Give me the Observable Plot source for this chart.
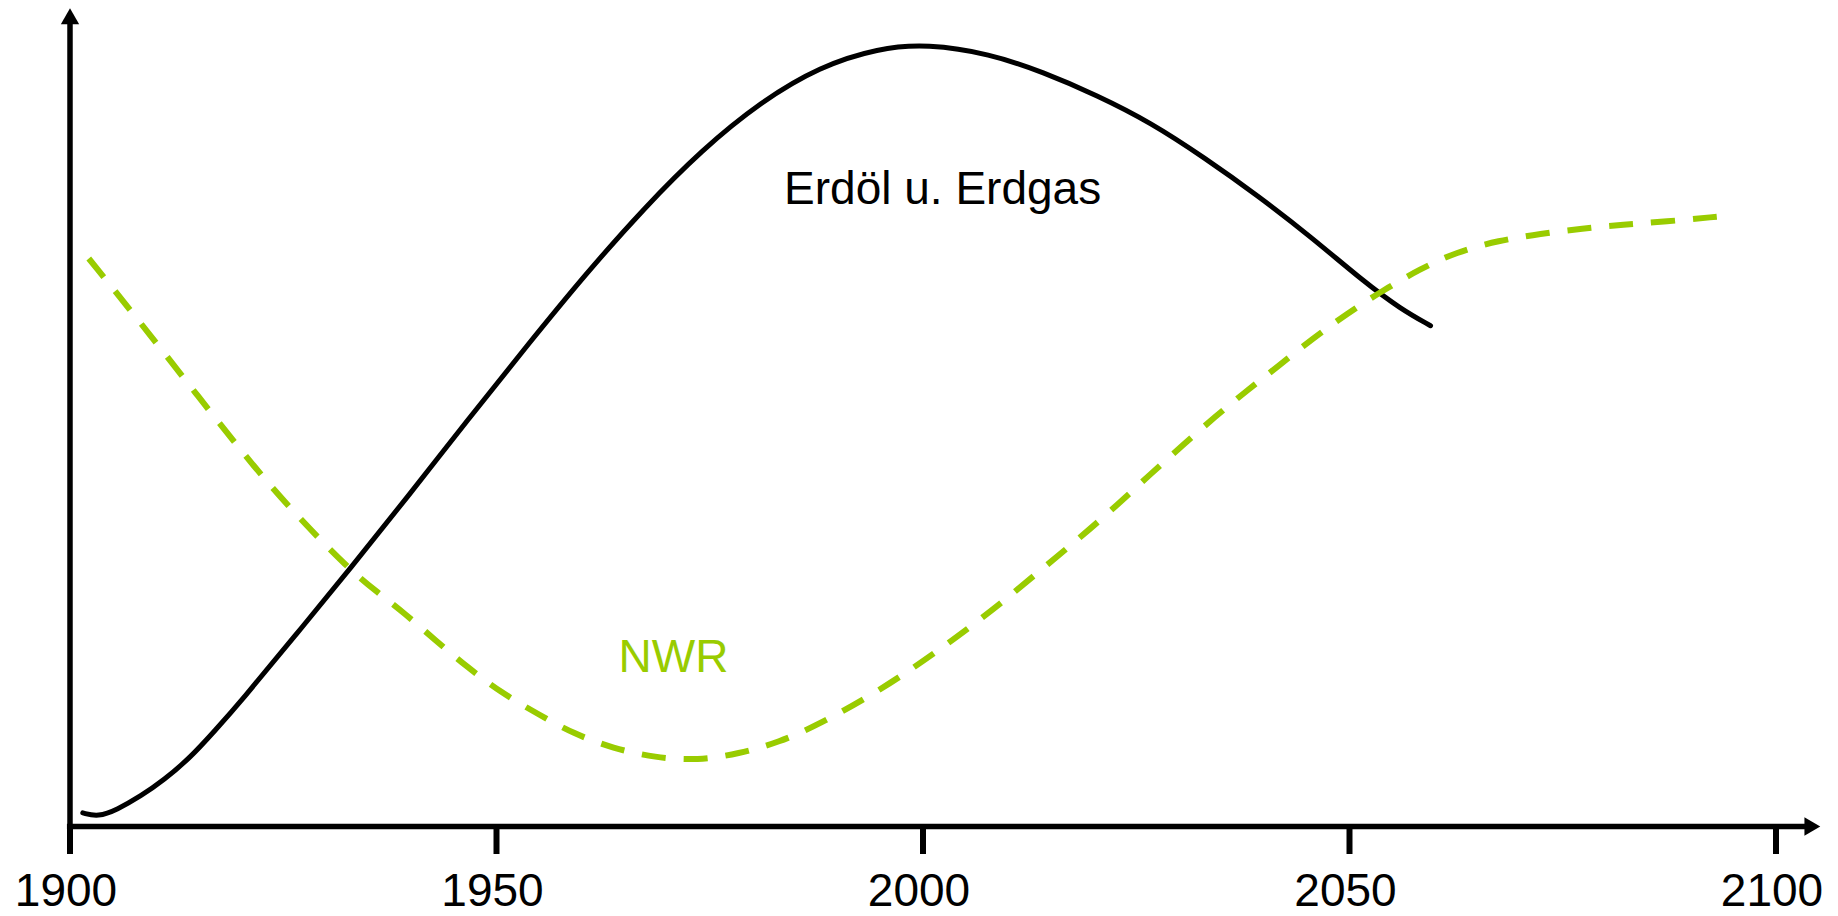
<!DOCTYPE html>
<html>
<head>
<meta charset="utf-8">
<script src="https://cdn.jsdelivr.net/npm/d3@7"></script>
<script src="https://cdn.jsdelivr.net/npm/@observablehq/plot@0.6"></script>
<style>
  html, body { margin: 0; padding: 0; background: #fff; }
  #chart svg { display: block; }
</style>
</head>
<body>
<div id="chart"></div>
<script>
// Tick years and labels
const tickYears = [1900, 1950, 2000, 2050, 2100];
const tickLabels = ["1900", "1950", "2000", "2050", "2100"];

// Series: Erdöl u. Erdgas (solid black)
const oilYears  = [1901.5, 1903.3, 1905.5, 1908.3, 1911.0, 1914.1, 1917.0, 1920.0, 1926.5, 1932.9, 1939.8, 1946.6, 1953.5, 1960.4, 1967.3, 1974.1, 1981.0, 1987.9, 1994.8, 2000.5, 2007.8, 2014.1, 2020.4, 2026.7, 2033.0, 2039.2, 2045.5, 2051.8, 2056.0, 2059.5];
const oilValues = [1.7,    1.2,    2.1,    3.8,    5.8,    8.6,    12.0,   15.6,   24.0,   32.3,   41.5,   50.8,   60.0,   69.0,   77.3,   84.6,   90.6,   95.0,   97.3,   97.8,   96.6,   94.3,   91.4,   88.0,   83.6,   78.9,   73.7,   68.0,   64.7,   62.6];

// Series: NWR (dashed green)
const nwrYears  = [1902.2, 1908.1, 1915.0, 1921.9, 1927.0, 1932.6, 1936.0, 1939.3, 1942.8, 1946.6, 1950.5, 1954.8, 1959.0, 1963.7, 1968.6, 1973.6, 1978.4, 1983.1, 1987.9, 1994.8, 2001.6, 2008.5, 2013.5, 2018.3, 2022.9, 2026.7, 2030.4, 2034.2, 2038.0, 2041.7, 2045.7, 2049.7, 2053.9, 2058.3, 2062.5, 2067.5, 2072.4, 2077.3, 2082.1, 2087.0, 2093.3];
const nwrValues = [71.0,   63.2,   53.8,   44.5,   38.4,   32.3,   29.3,   26.6,   23.3,   19.9,   16.75,  14.1,   11.6,   9.75,   8.6,    8.25,   9.1,    10.5,   12.8,   16.9,   21.8,   27.3,   31.8,   36.0,   40.3,   44.1,   47.6,   51.2,   54.5,   57.6,   61.0,   64.1,   67.0,   69.7,   71.8,   73.25,  74.1,   74.75,  75.25,  75.6,   76.25];

// Series labels
const seriesNames  = ["Erdöl u. Erdgas", "NWR"];
const labelYears   = [2002.3, 1970.75];
const labelValues  = [79.7, 21.1];
const seriesColors = ["#000000", "#99cc00"];

const oil = oilYears.map((x, i) => ({x, y: oilValues[i]}));
const nwr = nwrYears.map((x, i) => ({x, y: nwrValues[i]}));
const labels = seriesNames.map((name, i) => ({name, x: labelYears[i], y: labelValues[i], color: seriesColors[i]}));

const font = "'Liberation Sans', Arial, Helvetica, sans-serif";

const chart = Plot.plot({
  width: 1838,
  height: 916,
  marginLeft: 69.5,
  marginRight: 62.5,
  marginTop: 26,
  marginBottom: 90,
  style: {fontFamily: font, background: "#fff", overflow: "visible"},
  x: {domain: [1900, 2100], axis: null},
  y: {domain: [0, 100], axis: null},
  marks: [
    // tick marks
    Plot.ruleX(tickYears, {y1: 0, y2: -3.5, stroke: "#000", strokeWidth: 6}),
    // axis lines
    Plot.ruleY([0], {x1: 1900 - 0.3, x2: 2104, stroke: "#000", strokeWidth: 5.5}),
    Plot.ruleX([1900], {y1: -0.3, y2: 100.5, stroke: "#000", strokeWidth: 5.5}),
    // arrow heads
    Plot.dot([{x: 1900, y: 100.95}], {x: "x", y: "y", symbol: "triangle", r: 6.8, fill: "#000", stroke: null}),
    Plot.dot([{x: 2103.95, y: 0}], {x: "x", y: "y", symbol: "triangle", r: 6.8, fill: "#000", stroke: null, rotate: 90}),
    // tick labels
    Plot.axisX(tickYears, {
      anchor: "bottom",
      label: null,
      tickSize: 0,
      tickPadding: 47,
      fontSize: 46,
      fill: "#000",
      tickFormat: (d) => tickLabels[tickYears.indexOf(d)],
      dx: -4
    }),
    // series
    Plot.line(oil, {x: "x", y: "y", curve: "basis", stroke: seriesColors[0], strokeWidth: 5}),
    Plot.line(nwr, {x: "x", y: "y", curve: "basis", stroke: seriesColors[1], strokeWidth: 6, strokeDasharray: "24,18", strokeLinecap: "butt"}),
    // series labels
    Plot.text(labels, {x: "x", y: "y", text: "name", fill: "color", fontSize: 46, textAnchor: "middle"})
  ]
});

document.getElementById("chart").appendChild(chart);
</script>
</body>
</html>
